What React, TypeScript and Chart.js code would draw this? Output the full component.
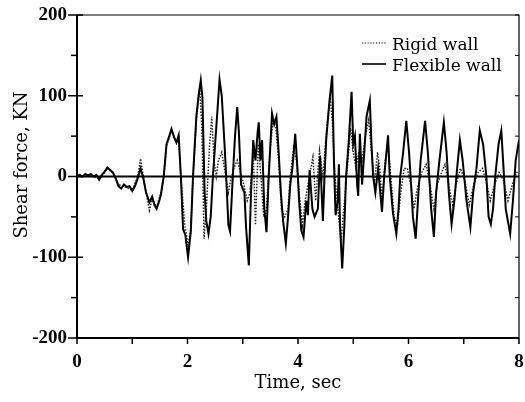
import React, { useEffect, useRef } from "react";
import { Chart, registerables } from "chart.js";

Chart.register(...registerables);

// Flexible wall (solid line)
const flexTime = [
  0.0, 0.05, 0.1, 0.15, 0.2, 0.25, 0.3, 0.35, 0.4, 0.45,
  0.5, 0.55, 0.6, 0.65, 0.7, 0.75, 0.8, 0.85, 0.9, 0.95,
  1.0, 1.05, 1.1, 1.15, 1.2, 1.25, 1.31, 1.36, 1.4, 1.44,
  1.49, 1.52, 1.57, 1.62, 1.67, 1.71, 1.76, 1.8, 1.84, 1.88,
  1.92, 1.96, 2.01, 2.06, 2.1, 2.16, 2.2, 2.24, 2.27, 2.31,
  2.34, 2.38, 2.42, 2.46, 2.52, 2.58, 2.62, 2.67, 2.7, 2.74,
  2.77, 2.82, 2.86, 2.9, 2.93, 2.97, 3.03, 3.06, 3.11, 3.15,
  3.19, 3.23, 3.27, 3.29, 3.32, 3.35, 3.39, 3.43, 3.47, 3.53,
  3.57, 3.61, 3.65, 3.69, 3.73, 3.78, 3.82, 3.86, 3.9, 3.95,
  3.99, 4.02, 4.06, 4.1, 4.15, 4.18, 4.21, 4.26, 4.3, 4.36,
  4.4, 4.45, 4.48, 4.51, 4.57, 4.62, 4.65, 4.68, 4.72, 4.74,
  4.76, 4.8, 4.84, 4.87, 4.92, 4.97, 5.0, 5.03, 5.07, 5.09,
  5.12, 5.16, 5.2, 5.24, 5.3, 5.33, 5.36, 5.4, 5.45, 5.52,
  5.56, 5.63, 5.66, 5.72, 5.78, 5.82, 5.85, 5.9, 5.96, 6.01,
  6.05, 6.08, 6.13, 6.18, 6.22, 6.3, 6.35, 6.41, 6.46, 6.5,
  6.56, 6.64, 6.69, 6.73, 6.78, 6.83, 6.88, 6.93, 6.98, 7.05,
  7.12, 7.17, 7.23, 7.29, 7.35, 7.41, 7.45, 7.49, 7.53, 7.57,
  7.63, 7.68, 7.72, 7.76, 7.84, 7.89, 7.94, 8.0,
];
const flexForce = [
  0, 2, 0, 3, 1, 3, 0, 2, -4, 2,
  6, 11, 8, 5, -2, -12, -15, -10, -13, -12,
  -18, -12, -2, 10, -2, -20, -32, -25, -35, -40,
  -30, -22, 0, 40, 50, 59, 48, 42, 51, 0,
  -65, -72, -100, -68, 0, 74, 100, 119, 98, -20,
  -55, -71, -50, 0, 60, 120, 100, 40, 0, -60,
  -68, 0, 50, 86, 55, -10, -20, -63, -110, -20,
  45, 20, 55, 67, 20, 45, -40, -69, 0, 78,
  65, 74, 30, -20, -55, -83, -50, -10, 11, 53,
  10, -30, -67, -75, -30, -48, 8, -40, -50, -40,
  25, -55, 0, 45, 94, 125, 20, -48, -30, 15,
  -60, -114, -60, 0, 45, 105, 40, 50, -10, -24,
  53, -10, 30, 74, 94, 40, 0, -20, 10, -44,
  0, 51, 0, -46, -71, -40, 0, 28, 69, 30,
  -13, -50, -77, -20, 20, 69, 30, -40, -75, -20,
  20, 67, 30, -20, -59, -30, 10, 45, 20, -30,
  -63, -20, 10, 57, 40, 0, -50, -59, -40, 0,
  40, 57, 10, -40, -71, -30, 20, 45,
];

// Rigid wall (dotted line)
const rigidTime = [
  0.0, 0.1, 0.2, 0.3, 0.4, 0.5, 0.55, 0.65, 0.75, 0.85,
  1.0, 1.1, 1.15, 1.2, 1.31, 1.36, 1.44, 1.52, 1.57, 1.62,
  1.71, 1.8, 1.84, 1.88, 1.95, 2.01, 2.06, 2.1, 2.16, 2.22,
  2.26, 2.3, 2.34, 2.4, 2.44, 2.48, 2.52, 2.56, 2.62, 2.68,
  2.74, 2.78, 2.84, 2.9, 2.96, 3.02, 3.08, 3.13, 3.19, 3.23,
  3.28, 3.33, 3.38, 3.43, 3.49, 3.55, 3.6, 3.65, 3.7, 3.76,
  3.82, 3.86, 3.92, 3.97, 4.02, 4.08, 4.13, 4.18, 4.27, 4.32,
  4.39, 4.45, 4.52, 4.58, 4.62, 4.67, 4.72, 4.78, 4.83, 4.88,
  4.95, 5.0, 5.05, 5.1, 5.16, 5.22, 5.28, 5.33, 5.38, 5.44,
  5.48, 5.52, 5.58, 5.63, 5.68, 5.74, 5.8, 5.86, 5.92, 5.98,
  6.04, 6.1, 6.16, 6.24, 6.32, 6.4, 6.46, 6.52, 6.6, 6.66,
  6.74, 6.8, 6.86, 6.94, 7.02, 7.1, 7.18, 7.26, 7.34, 7.42,
  7.48, 7.56, 7.64, 7.72, 7.8, 7.88, 7.95, 8.0,
];
const rigidForce = [
  0, 1, 2, 0, -3, 5, 10, 4, -10, -12,
  -17, 0, 22, 0, -42, -28, -38, -20, 0, 38,
  57, 42, 48, 0, -60, -85, -65, 0, 70, 110,
  60, -77, -40, 40, 74, 20, 0, 20, 30, 5,
  -20, -5, 10, 20, 5, -10, -30, -20, 30, -60,
  40, 0, -50, -40, 30, 70, 60, 20, -40, -50,
  -40, 0, 35, 20, -20, -60, -30, -10, 24, -30,
  32, 0, 60, 98, 70, 0, -40, -80, -40, 0,
  60, 30, 10, 30, 20, 50, 70, 30, -10, 30,
  10, -30, 20, 40, 0, -50, -60, -20, 10, 10,
  -10, -40, -15, 5, 15, -15, -40, -10, 5, 15,
  -15, -35, -10, 10, -5, -35, -10, 5, 10, -10,
  -30, -10, 5, -5, -30, -10, 5, 5,
];

const seriesNames = ["Rigid wall", "Flexible wall"];
const xTitle = "Time, sec";
const yTitle = "Shear force, KN";
const xMin = 0, xMax = 8, xStep = 2, xMinorStep = 1;
const yMin = -200, yMax = 200, yStep = 100, yMinorStep = 50;

const SERIF = "'DejaVu Serif', 'Liberation Serif', serif";
const TIMES = "'Liberation Serif', 'DejaVu Serif', serif";

const decorPlugin = {
  id: "decor",
  beforeDatasetsDraw(chart: any) {
    const { ctx, chartArea: a, scales } = chart;
    const y0 = scales.y.getPixelForValue(0);
    ctx.save();
    ctx.strokeStyle = "#000";
    ctx.lineWidth = 1.8;
    ctx.beginPath();
    ctx.moveTo(a.left, y0);
    ctx.lineTo(a.right, y0);
    ctx.stroke();
    ctx.restore();
  },
  afterDraw(chart: any) {
    const { ctx, chartArea: a, scales } = chart;
    const xs = scales.x, ys = scales.y;
    ctx.save();
    ctx.strokeStyle = "#000";
    // frame
    ctx.lineWidth = 1.2;
    ctx.beginPath();
    ctx.moveTo(a.left, a.top);
    ctx.lineTo(a.right, a.top);
    ctx.lineTo(a.right, a.bottom);
    ctx.stroke();
    ctx.lineWidth = 2;
    ctx.beginPath();
    ctx.moveTo(a.left, a.top);
    ctx.lineTo(a.left, a.bottom);
    ctx.lineTo(a.right, a.bottom);
    ctx.stroke();
    // y ticks
    for (let v = yMin; v <= yMax; v += yMinorStep) {
      const py = ys.getPixelForValue(v);
      const major = v % yStep === 0;
      ctx.lineWidth = 1.5;
      ctx.beginPath();
      ctx.moveTo(a.left - (major ? 9 : 6), py);
      ctx.lineTo(a.left + (major ? 6 : 1), py);
      ctx.stroke();
      ctx.lineWidth = 1;
      ctx.beginPath();
      ctx.moveTo(a.right, py);
      ctx.lineTo(a.right - 4, py);
      ctx.stroke();
    }
    // x ticks
    ctx.lineWidth = 1.5;
    for (let v = xMin; v <= xMax; v += xMinorStep) {
      const px = xs.getPixelForValue(v);
      ctx.beginPath();
      ctx.moveTo(px, a.bottom);
      ctx.lineTo(px, a.bottom + 6);
      ctx.stroke();
    }
    // axis titles
    ctx.fillStyle = "#000";
    ctx.font = `18px ${SERIF}`;
    ctx.textAlign = "center";
    ctx.textBaseline = "middle";
    ctx.fillText(xTitle, (a.left + a.right) / 2, 383);
    ctx.save();
    ctx.translate(22, 165);
    ctx.rotate(-Math.PI / 2);
    ctx.fillText(yTitle, 0, 0);
    ctx.restore();
    // legend
    const lx0 = 362, lx1 = 386, tx = 392;
    const rows = [
      { y: 45, dash: [1.2, 1.6], w: 1.2, label: seriesNames[0] },
      { y: 66, dash: [], w: 1.6, label: seriesNames[1] },
    ];
    ctx.font = `17px ${SERIF}`;
    ctx.textAlign = "left";
    for (const r of rows) {
      ctx.setLineDash(r.dash);
      ctx.lineWidth = r.w;
      ctx.beginPath();
      ctx.moveTo(lx0, r.y - 2);
      ctx.lineTo(lx1, r.y - 2);
      ctx.stroke();
      ctx.setLineDash([]);
      ctx.fillText(r.label, tx, r.y + 1);
    }
    ctx.restore();
  },
};

export default function App() {
  const ref = useRef<HTMLCanvasElement | null>(null);
  useEffect(() => {
    if (!ref.current) return;
    const flexData = flexTime.map((t, i) => ({ x: t, y: flexForce[i] }));
    const rigidData = rigidTime.map((t, i) => ({ x: t, y: rigidForce[i] }));
    const chart = new Chart(ref.current, {
      type: "line",
      data: {
        datasets: [
          {
            label: seriesNames[1],
            data: flexData,
            borderColor: "#000",
            borderWidth: 2,
            pointRadius: 0,
            tension: 0,
          },
          {
            label: seriesNames[0],
            data: rigidData,
            borderColor: "#222",
            borderWidth: 1.5,
            borderDash: [1.5, 1.5],
            pointRadius: 0,
            tension: 0,
          },
        ],
      },
      options: {
        animation: false,
        responsive: true,
        maintainAspectRatio: false,
        layout: { padding: { top: 15, right: 6, left: 0, bottom: 0 } },
        plugins: { legend: { display: false }, tooltip: { enabled: false } },
        scales: {
          x: {
            type: "linear",
            min: xMin,
            max: xMax,
            afterFit: (s: any) => { s.height = 64; s.paddingLeft = 0; s.paddingRight = 0; },
            grid: { display: false, drawTicks: false },
            border: { display: false },
            ticks: {
              stepSize: xStep,
              color: "#000",
              padding: 13,
              maxRotation: 0,
              font: { family: TIMES, size: 19, weight: "bold" },
            },
          },
          y: {
            min: yMin,
            max: yMax,
            afterFit: (s: any) => { s.width = 77; s.paddingTop = 0; s.paddingBottom = 0; },
            grid: { display: false, drawTicks: false },
            border: { display: false },
            ticks: {
              stepSize: yStep,
              color: "#000",
              padding: 10,
              font: { family: TIMES, size: 19, weight: "bold" },
            },
          },
        },
      },
      plugins: [decorPlugin],
    });
    return () => chart.destroy();
  }, []);
  return (
    <div style={{ position: "fixed", left: 0, top: 0, width: 525, height: 402, background: "#fff" }}>
      <canvas ref={ref} />
    </div>
  );
}
